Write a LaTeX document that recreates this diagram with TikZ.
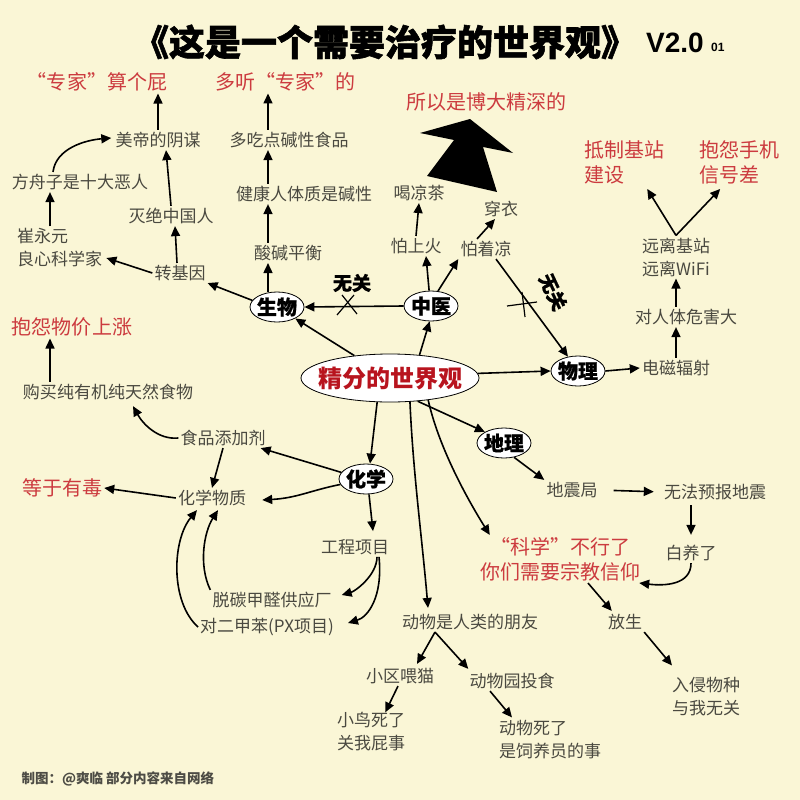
\documentclass[tikz,border=0pt]{standalone}
\usepackage{fontspec}
\newfontfamily\cjk{Noto Sans CJK SC}
\newfontfamily\cjkh[FakeBold=1.6]{Noto Sans CJK SC}
\newfontfamily\cjko[FakeBold=0.8]{Noto Sans CJK SC}
\newfontfamily\lsans{Liberation Sans}
\usetikzlibrary{arrows.meta,shapes.geometric,calc}
\definecolor{bgc}{HTML}{FAF6D6}
\definecolor{tgray}{HTML}{4A4940}
\definecolor{tred}{HTML}{CC3B3F}
\definecolor{jfred}{HTML}{B8141E}
\definecolor{footgray}{HTML}{4D4C45}
\begin{document}
\begin{tikzpicture}[x=1pt,y=-1pt,
  txt/.style={font=\cjk\fontsize{17}{23}\selectfont, text=tgray, inner sep=2pt, align=center},
  txtl/.style={txt, align=left, anchor=west},
  redt/.style={font=\cjk\fontsize{20}{25}\selectfont, text=tred, inner sep=2pt, align=center},
  redl/.style={redt, align=left, anchor=west},
  oval/.style={ellipse, draw=black, line width=0.8pt, fill=white, inner xsep=-3pt, inner ysep=-4pt,
    minimum width=54pt, minimum height=30pt, font=\cjko\bfseries\fontsize{20}{24}\selectfont},
  arr/.style={line width=1.6pt, -{Triangle[length=10pt,width=9pt]}},
  xline/.style={line width=1.2pt},
  wuguan/.style={font=\cjko\bfseries\fontsize{19}{21}\selectfont, inner sep=0pt}
]
\fill[bgc] (0,0) rectangle (800,800);
\useasboundingbox (0,0) rectangle (800,800);

% title
\node[font=\cjkh\bfseries\fontsize{36}{40}\selectfont, inner sep=0] (title) at (385,42) {《这是一个需要治疗的世界观》};
\node[font=\lsans\bfseries\fontsize{28}{30}\selectfont, anchor=west, inner sep=0] (ver) at (646,43) {V2.0};
\node[font=\lsans\bfseries\fontsize{12}{14}\selectfont, anchor=west, inner sep=0] (ver2) at (711,47) {01};

% red labels
\node[redt] (zj1) at (97,82) {“专家”算个屁};
\node[redt] (zj2) at (285,82) {多听“专家”的};
\node[redt] (bdjs) at (486,102) {所以是博大精深的};
\node[redl] (dzjz) at (582,162) {抵制基站\\建设};
\node[redl] (bysj) at (697,162) {抱怨手机\\信号差};
\node[redt] (bywj) at (72,327) {抱怨物价上涨};
\node[redt] (dyyd) at (62,488) {等于有毒};
\node[redt] (kx) at (560,559) {“科学”不行了\\你们需要宗教信仰};

% gray labels
\node[txt] (mdym) at (158,140) {美帝的阴谋};
\node[txt] (dcd) at (289,140) {多吃点碱性食品};
\node[txt] (fzz) at (80,182) {方舟子是十大恶人};
\node[txt] (jkrt) at (304,194) {健康人体质是碱性};
\node[txt] (mjzg) at (171,216) {灭绝中国人};
\node[txt] (hlc) at (419,193) {喝凉茶};
\node[txt] (cy) at (501,209) {穿衣};
\node[txt] (psh) at (416,246) {怕上火};
\node[txt] (pzl) at (486,249) {怕着凉};
\node[txtl] (cyy) at (15,248) {崔永元\\良心科学家};
\node[txt] (zjy) at (180,273) {转基因};
\node[txt] (sjph) at (288,253) {酸碱平衡};
\node[txtl] (yljz) at (640,257) {远离基站\\远离WiFi};
\node[txt] (drt) at (686,317) {对人体危害大};
\node[txt] (dcfs) at (676,368) {电磁辐射};
\node[txt] (gmc) at (108,392) {购买纯有机纯天然食物};
\node[txt] (spt) at (223,438) {食品添加剂};
\node[txt] (hxwz) at (212,498) {化学物质};
\node[txt] (gcxm) at (355,547) {工程项目};
\node[txt] (ttjq) at (272,600) {脱碳甲醛供应厂};
\node[txt] (de) at (267,627) {对二甲苯(PX项目)};
\node[txt] (dwsr) at (470,622) {动物是人类的朋友};
\node[txt] (fs) at (625,622) {放生};
\node[txt] (dzj) at (572,490) {地震局};
\node[txt] (wfyb) at (715,492) {无法预报地震};
\node[txt] (byl) at (691,553) {白养了};
\node[txt] (xqwm) at (400,676) {小区喂猫};
\node[txt] (dwy) at (512,681) {动物园投食};
\node[txtl] (rqwz) at (670,697) {入侵物种\\与我无关};
\node[txtl] (xnsl) at (335,732) {小鸟死了\\关我屁事};
\node[txtl] (dwsl) at (497,740) {动物死了\\是饲养员的事};
\node[font=\cjk\bfseries\fontsize{13.5}{16}\selectfont, text=footgray, anchor=west] (foot) at (18,779) {制图：@爽临\ 部分内容来自网络};

% ovals
\node[oval] (sw) at (277,307) {生物};
\node[oval] (zy) at (431,306) {中医};
\node[oval, minimum width=178pt, minimum height=48pt, inner xsep=-20pt, inner ysep=-8pt,
  font=\cjk\bfseries\fontsize{24}{26}\selectfont, text=jfred] (jf) at (390,378) {精分的世界观};
\node[oval] (wl) at (578,371) {物理};
\node[oval] (dl) at (504,443) {地理};
\node[oval] (hx) at (366,479) {化学};

% big black arrow
\fill[black] (470,119) -- (513,153) -- (483,147) -- (497,192) -- (427,176) -- (454,140) -- (420,133) -- cycle;

% wuguan labels and crosses
\node[wuguan] (wg1) at (352,283) {无关};
\node[wuguan, rotate=-65] (wg2) at (553,292) {无关};

\coordinate (cA) at (268,0);
\coordinate (cB) at (50,0);

% connectors
\draw[arr] (jf) -- (sw);
\draw[arr] (jf.38) -- (zy.265);
\draw[arr] (zy.west) -- (sw.east);
\draw[xline] (337,315) -- (354,295);
\draw[xline] (342,295) -- (357,314);
\draw[arr] (zy.97) -- ($(psh.south)+(10,0)$);
\draw[arr] (zy.65) -- (pzl.south west);
\draw[arr] (psh.north) -- (hlc.south);
\draw[arr] ($(pzl.north)+(-9,0)$) -- ($(cy.south)+(-6,0)$);
\draw[arr] ($(pzl.south)+(10,0)$) -- (wl.125);
\draw[xline] (507,306) -- (537,302);
\draw[xline] (522,292) -- (525,317);
\draw[arr] (sw.165) -- (zjy.-20);
\draw[arr] (sw.north -| cA) -- (sjph.south -| cA);
\draw[arr] (sjph.north -| cA) -- (jkrt.south -| cA);
\draw[arr] (jkrt.north -| cA) -- (dcd.south -| cA);
\draw[arr] (dcd.north -| cA) -- (zj2.south -| cA);
\draw[arr] ($(zjy.north)+(-3,0)$) -- ($(mjzg.south)+(4,0)$);
\draw[arr] (mjzg.north) -- ($(mdym.south)+(8,0)$);
\draw[arr] (mdym.north) -- (zj1.south -| mdym.north);
\draw[arr] (zjy.west) -- ($(cyy.east)+(2,10)$);
\draw[arr] (cyy.north -| cB) -- (fzz.south -| cB);
\draw[arr] ($(fzz.north -| cB)+(3,0)$) .. controls +(3,-24) and +(-25,2) .. ($(mdym.west)+(-2,-2)$);
\draw[arr] (jf.3) -- (wl.west);
\draw[arr] (wl.east) -- (dcfs.west);
\draw[arr] (dcfs.north) -- (drt.south -| dcfs.north);
\draw[arr] (drt.north -| dcfs.north) -- (yljz.south -| dcfs.north);
\draw[arr] (yljz.north -| dcfs.north) -- ($(dzjz.south)+(23,3)$);
\draw[arr] (yljz.north -| dcfs.north) -- ($(bysj.south)+(-19,3)$);
\draw[arr] (jf.-40) -- (dl.150);
\draw[arr] (dl.-55) -- (dzj.north west);
\draw[arr, shorten <=14pt, shorten >=8pt] (dzj.east) -- (wfyb.west);
\draw[arr, shorten <=3pt, shorten >=8pt] (wfyb.south -| byl.north) -- (byl.north);
\draw[arr] (byl.south) .. controls +(0,22) and +(25,3) .. ($(kx.south east)+(-3,0)$);
\draw[arr] ($(kx.south)+(28,0)$) -- ($(fs.north west)+(6,-1)$);
\draw[arr] (fs.south east) -- ($(rqwz.north west)+(2,-10)$);
\draw[arr] (jf.-30) .. controls +(10,45) and +(-25,-40) .. ($(kx.north west)+(12,0)$);
\draw[arr] (jf.-50) .. controls +(3,70) and +(-6,-70) .. ($(dwsr.north)+(-42,-4)$);
\draw[arr] (jf.-118) -- ($(hx.north)+(4,0)$);
\draw[arr] ($(hx.south)+(3,0)$) -- ($(gcxm.north)+(18,-6)$);
\draw[arr] (hx.165) -- (spt.-15);
\draw[arr] (hx.192) .. controls +(-30,6) and +(35,-2) .. ($(hxwz.east)+(14,2)$);
\draw[arr] (spt.south) -- (hxwz.north);
\draw[arr] (spt.west) .. controls +(-20,2) and +(10,18) .. ($(gmc.south)+(25,4)$);
\draw[arr] (gmc.north -| cB) -- (bywj.south -| cB);
\draw[arr] (hxwz.west) -- (dyyd.east);
\draw[arr] ($(gcxm.south)+(22,0)$) .. controls +(0,18) and +(14,-4) .. ($(ttjq.east)+(8,-5)$);
\draw[arr] ($(gcxm.south)+(24,0)$) .. controls +(4,40) and +(20,-6) .. ($(de.east)+(12,-4)$);
\draw[arr] (ttjq.north west) .. controls +(-12,-25) and +(-14,22) .. ($(hxwz.south)+(6,2)$);
\draw[arr] (de.west) .. controls +(-28,-25) and +(-25,30) .. ($(hxwz.south)+(-15,2)$);
\draw[arr] ($(dwsr.south)+(-35,0)$) -- ($(xqwm.north)+(17,-2)$);
\draw[arr] ($(dwsr.south)+(-35,0)$) -- ($(dwy.north west)+(1,-2)$);
\draw[arr] ($(xqwm.south)+(-2,0)$) -- ($(xnsl.north)+(14,2)$);
\draw[arr] ($(dwy.south)+(-22,0)$) -- ($(dwsl.north west)+(15,-1)$);
\end{tikzpicture}
\end{document}
